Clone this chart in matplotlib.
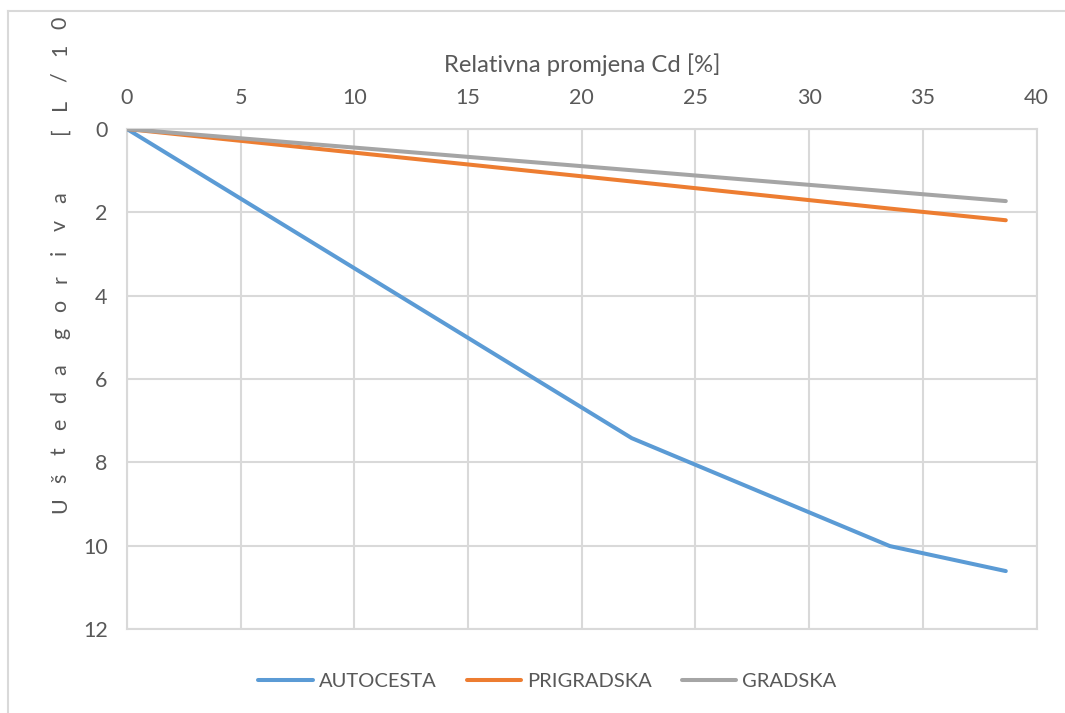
import matplotlib as mpl
mpl.use('Agg')
import matplotlib.pyplot as plt
from matplotlib.lines import Line2D
from matplotlib.transforms import Bbox, TransformedBbox

# relativna promjena Cd [%] i ušteda goriva za svaki ciklus
cd_change = [0, 22.2, 33.55, 38.65]
autocesta = [0, 7.42, 10.01, 10.61]
prigradska = [0, 1.26, 1.91, 2.19]
gradska = [0, 0.99, 1.50, 1.73]

series_names = ['AUTOCESTA', 'PRIGRADSKA', 'GRADSKA']
series_colors = ['#5b9bd5', '#ed7d31', '#a5a5a5']
x_ticks = list(range(0, 41, 5))
y_ticks = list(range(0, 13, 2))

y_title = 'Ušteda goriva    [L/100 km]'
x_title = 'Relativna promjena Cd [%]'

plt.rcParams['font.family'] = ['Lato', 'DejaVu Sans']
txt_color = '#595959'
grid_color = '#d9d9d9'

W, H = 1065, 713
fig = plt.figure(figsize=(W / 100, H / 100), dpi=100)
ax = fig.add_axes([127 / W, 1 - 629 / H, (1036.5 - 127) / W, 500 / H])

for vals, name, col in zip([autocesta, prigradska, gradska], series_names, series_colors):
    ax.plot(cd_change, vals, color=col, lw=2.9, label=name,
            solid_capstyle='round', solid_joinstyle='round', zorder=3)

ax.set_xlim(0, 40)
ax.set_ylim(12, 0)
ax.set_xticks(x_ticks)
ax.set_yticks(y_ticks)
ax.xaxis.tick_top()
ax.xaxis.set_label_position('top')
ax.grid(True, color=grid_color, lw=1.5, zorder=0)
for s in ax.spines.values():
    s.set_color(grid_color)
    s.set_linewidth(1.5)
ax.tick_params(axis='both', length=0, labelsize=15.5, colors=txt_color)
ax.tick_params(axis='x', pad=15)
ax.tick_params(axis='y', pad=14)
ax.set_xlabel(x_title, fontsize=17.2, color=txt_color, labelpad=12)

# naslov y osi, razmaknuta slova, odrezan na rubu okvira
chart_box = TransformedBbox(Bbox([[0, 0], [1, 1 - 12 / H]]), fig.transFigure)
cur = 505
for ch in y_title:
    if ch == ' ':
        cur -= 10
        continue
    t = fig.text(60 / W, 1 - cur / H, ch, rotation=90, ha='center', va='center',
                 fontsize=15.5, color=txt_color)
    t.set_clip_box(chart_box)
    t.set_clip_on(True)
    cur -= 27

ax.legend(loc='center', bbox_to_anchor=(547.5 / W, 1 - 681 / H),
          bbox_transform=fig.transFigure, ncol=3, frameon=False,
          fontsize=14.5, labelcolor=txt_color, handlelength=2.7,
          handletextpad=0.3, columnspacing=1.5)

# okvir grafikona
fig.add_artist(Line2D([8 / W, 8 / W], [0, 1 - 11 / H], color=grid_color, lw=1.5))
fig.add_artist(Line2D([8 / W, 1], [1 - 11 / H, 1 - 11 / H], color=grid_color, lw=1.5))

fig.savefig('out.png', dpi=100)
